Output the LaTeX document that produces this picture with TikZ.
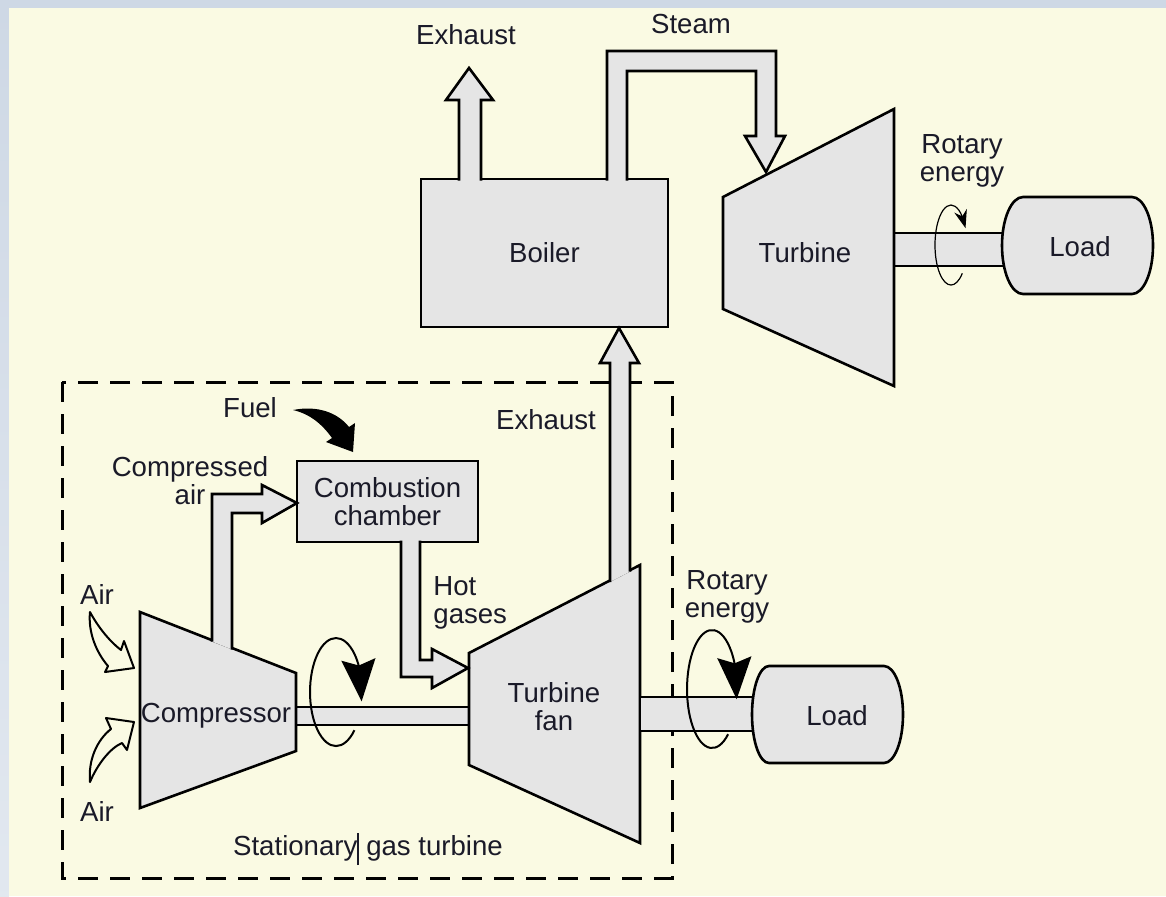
\documentclass[tikz,border=0pt]{standalone}
\usepackage{fontspec}
\setmainfont{Liberation Sans}
\usetikzlibrary{arrows.meta,bending}

\definecolor{paper}{RGB}{250,250,227}
\definecolor{frame}{RGB}{206,216,229}
\definecolor{part}{RGB}{229,229,229}
\definecolor{ink}{RGB}{26,26,40}

\begin{document}
\begin{tikzpicture}[x=.5pt,y=-.5pt,
 every node/.style={text=ink,font=\fontsize{13.8}{14}\selectfont,inner sep=0pt,align=center},
 box/.style={draw,fill=part,line width=1.3pt},
 body/.style={draw,fill=part,line width=1.3pt},
 pipe/.style={draw,fill=part,line width=1.3pt},
 spin/.style={line width=1pt,-{Stealth[length=21pt,width=17pt,inset=3pt]}},
 hollow/.style={draw,fill=paper,line width=1pt,line join=round}]
 \fill[frame] (0,0) rectangle (1166,896);
 \shade[top color=frame,middle color=frame!30!white,bottom color=frame!60!white] (0,0) rectangle (9,896);
 \fill[paper] (9,8) rectangle (1166,896);
 \useasboundingbox (0,0) rectangle (1166,896);

 \node[box,minimum width=123.5pt,minimum height=74pt] (boiler) at (544.5,253) {Boiler};
 \draw[pipe] (459,180.5) -- (459,100) -- (446,100) -- (469,68) -- (493,100) -- (481,100) -- (481,180.5);
 \node (exhaust) at (466,35) {Exhaust};
 \draw[pipe] (607,180.5) -- (607,51) -- (776,51) -- (776,136) -- (785,136) -- (766,172)
   -- (745,136) -- (756,136) -- (756,71) -- (627,71) -- (627,180.5);
 \node (steam) at (691,24) {Steam};

 \draw[body] (894,233) rectangle (1010,266);
 \draw[body] (723,197) -- (894,109) -- (894,386) -- (723,309) -- cycle;
 \node (turbine) at (805,253) {Turbine};
 \draw[body] (1023,197) -- (1132,197) arc[start angle=-90,end angle=90,x radius=21,y radius=48.5]
   -- (1023,294) arc[start angle=90,end angle=270,x radius=21,y radius=48.5] -- cycle;
 \node (load) at (1080,247) {Load};
 \draw[line width=.6pt,-{Stealth[length=9pt,width=6.5pt]}] (962.3,273.3)
   arc[start angle=45,end angle=335,x radius=16,y radius=40];
 \node (rotary) at (962,161) {Rotary\\energy};

 \draw[line width=1.5pt,dash pattern=on 10pt off 6pt] (62,382) rectangle (672,878);
 \node[anchor=base] (gasturbine) at (368,855) {Stationary\rule[-5pt]{.6pt}{16pt} gas turbine};

 \draw[body] (296,707) rectangle (469,725);
 \draw[body] (140,612) -- (296,673) -- (296,751) -- (140,808) -- cycle;
 \draw[body] (469,653) -- (640,565) -- (640,843) -- (469,765) -- cycle;
 \node (compressor) at (216,716) {Compressor};
 \node (fan) at (554,707) {Turbine\\fan};
 \node[box,minimum width=90.5pt,minimum height=40.5pt] (burner) at (387.5,501.5) {Combustion\\chamber};

 \draw[pipe] (212,641.5) -- (212,494) -- (262,494) -- (262,485) -- (297,503) -- (262,523)
   -- (262,513) -- (232,513) -- (232,649.5);
 \draw[pipe] (401,540.5) -- (401,677) -- (432,677) -- (432,688) -- (468,668) -- (432,649)
   -- (432,660) -- (420,660) -- (420,540.5);
 \draw[pipe] (610,582) -- (610,363) -- (600,363) -- (619,328) -- (639,363) -- (630,363) -- (630,571.7);

 \node (compair) at (190,481) {Compressed\\air};
 \node (fuel) at (250,408) {Fuel};
 \node[anchor=west,align=left] (hot) at (433,603) {Hot\\gases};
 \node (exhaust2) at (546,420) {Exhaust};
 \node (air1) at (97,594) {Air};
 \node (air2) at (97,811) {Air};

 \fill[black] (293,410) .. controls (318,405) and (338,413) .. (349,427) -- (355,423) -- (353,452)
   -- (326,442) -- (332,438) .. controls (322,424) and (310,414) .. (293,410) -- cycle;
 \draw[hollow] (90,612) .. controls (97,625) and (108,640) .. (121,650) -- (124,641) -- (134,668)
   -- (105,672) -- (108,666) .. controls (96,652) and (88,632) .. (90,612) -- cycle;
 \draw[hollow] (90,782) .. controls (88,760) and (97,740) .. (111,729) -- (106,718) -- (134,722)
   -- (127,750) -- (122,743) .. controls (110,748) and (97,765) .. (90,782) -- cycle;

 \draw[spin] (354.4,730.2) arc[start angle=45,end angle=370,x radius=26,y radius=54];

 \draw[body] (640,697) rectangle (760,731);
 \draw[body] (769,666) -- (884,666) arc[start angle=-90,end angle=90,x radius=19,y radius=48.5]
   -- (769,763) arc[start angle=90,end angle=270,x radius=17,y radius=48.5] -- cycle;
 \node (load2) at (837,716) {Load};
 \draw[spin] (728.1,734.2) arc[start angle=50,end angle=370,x radius=25,y radius=59];
 \node (rotary2) at (727,597) {Rotary\\energy};
\end{tikzpicture}
\end{document}
